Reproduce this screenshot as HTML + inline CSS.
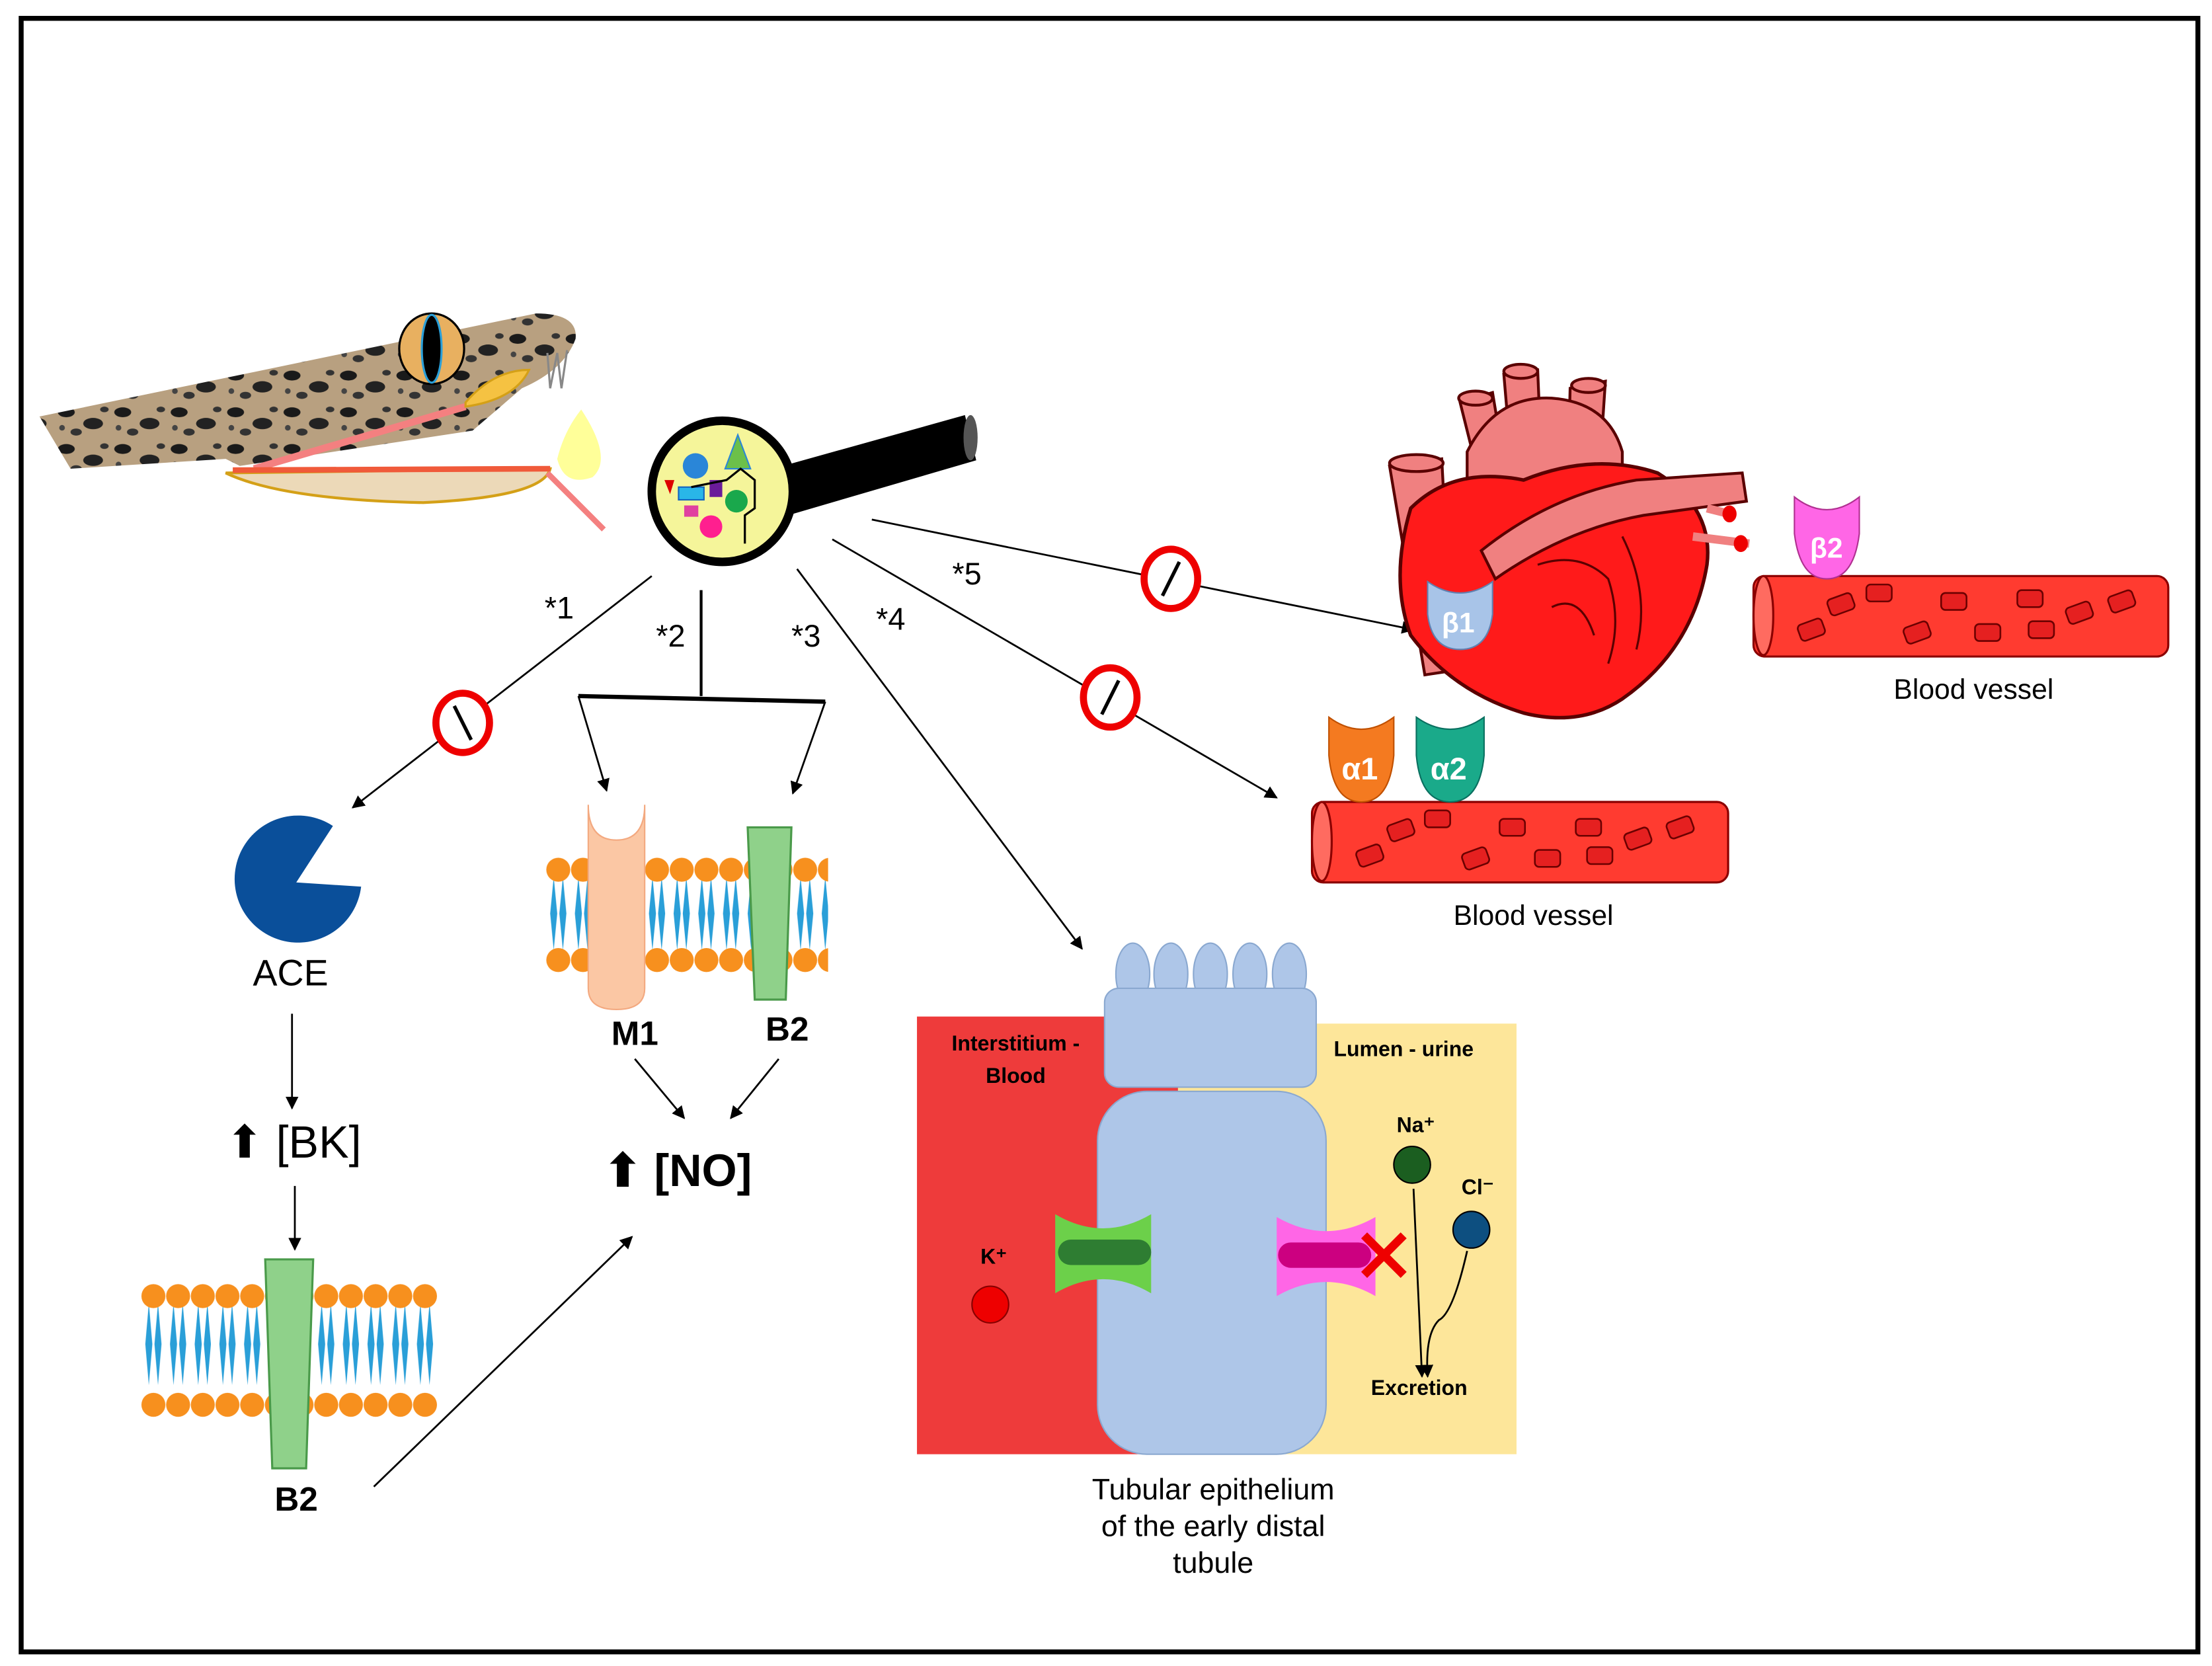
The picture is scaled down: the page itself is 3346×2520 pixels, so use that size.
<!DOCTYPE html>
<html><head><meta charset="utf-8"><style>html,body{margin:0;padding:0;background:#fff}svg{display:block}</style></head>
<body>
<svg width="3346" height="2520" viewBox="0 0 1568 1180" preserveAspectRatio="none" xmlns="http://www.w3.org/2000/svg" font-family="Liberation Sans, sans-serif">
<defs>
<marker id="ah" viewBox="0 0 10 10" refX="9" refY="5" markerWidth="7" markerHeight="7" orient="auto"><path d="M0,0 L10,5 L0,10 z" fill="#000"/></marker>
<pattern id="mem1" x="100" y="909" width="17.5" height="100" patternUnits="userSpaceOnUse">
<polygon points="5.5,14 8,43 5.5,72 3,43" fill="#2a9fd8"/>
<polygon points="12,14 14.5,43 12,72 9.5,43" fill="#2a9fd8"/>
<circle cx="8.75" cy="9" r="8.5" fill="#f7901e"/>
<circle cx="8.75" cy="86" r="8.5" fill="#f7901e"/>
</pattern>
<pattern id="mem2" x="387" y="607" width="17.5" height="100" patternUnits="userSpaceOnUse">
<polygon points="5.5,14 8,40 5.5,66 3,40" fill="#2a9fd8"/>
<polygon points="12,14 14.5,40 12,66 9.5,40" fill="#2a9fd8"/>
<circle cx="8.75" cy="9" r="8.5" fill="#f7901e"/>
<circle cx="8.75" cy="73" r="8.5" fill="#f7901e"/>
</pattern>
<pattern id="spots" width="40" height="26" patternUnits="userSpaceOnUse">
<rect width="40" height="26" fill="#b8a080"/>
<ellipse cx="7" cy="6" rx="6" ry="3.5" fill="#1a1a1a"/>
<ellipse cx="26" cy="14" rx="7" ry="4" fill="#222"/>
<ellipse cx="14" cy="20" rx="4" ry="2.5" fill="#333"/>
<ellipse cx="34" cy="4" rx="3" ry="2" fill="#333"/>
<ellipse cx="4" cy="17" rx="2" ry="2" fill="#444"/>
</pattern>
</defs>
<rect x="15" y="13" width="1543" height="1157" fill="#fff" stroke="#000" stroke-width="3.5"/>

<!-- snake -->
<path d="M28,295 L380,222 Q410,222 408,240 Q400,262 370,275 L335,305 L170,330 L160,325 L50,332 Z" fill="url(#spots)"/>
<path d="M160,335 L390,332 Q385,352 300,356 Q200,354 160,335 Z" fill="#ecd9b8" stroke="#d4a017" stroke-width="2"/>
<path d="M180,332 L330,288" stroke="#f48080" stroke-width="5"/>
<path d="M165,333 L390,332" stroke="#f05a3a" stroke-width="4"/>
<path d="M388,335 L428,375" stroke="#f48080" stroke-width="4"/>
<path d="M330,285 Q350,262 375,262 Q365,283 330,288 Z" fill="#f5c242" stroke="#d4a017" stroke-width="1.5"/>
<ellipse cx="306" cy="247" rx="23" ry="25" fill="#e8b060" stroke="#000" stroke-width="1.5"/>
<ellipse cx="306" cy="247" rx="7" ry="24" fill="#000" stroke="#2a9fd8" stroke-width="1.5"/>
<path d="M388,250 L390,275 L395,250 L398,275 L402,248" stroke="#888" fill="none" stroke-width="1.5"/>
<path d="M412,290 Q435,325 420,338 Q400,345 395,325 Q400,305 412,290 Z" fill="#ffff99"/>

<!-- magnifier -->
<path d="M555,330 L684,294 L692,326 L562,364 Z" fill="#000"/>
<ellipse cx="688" cy="310" rx="5" ry="16" fill="#555"/>
<circle cx="512" cy="348" r="50" fill="#f5f59a" stroke="#000" stroke-width="6"/>
<circle cx="493" cy="330" r="9" fill="#2a86d8"/>
<polygon points="523,308 514,332 532,332" fill="#6cc04a" stroke="#2a86d8"/>
<rect x="481" y="345" width="18" height="9" fill="#29b6e8" stroke="#1565c0"/>
<rect x="503" y="340" width="9" height="12" fill="#6a1b9a"/>
<circle cx="522" cy="355" r="8" fill="#1aa84c"/>
<rect x="485" y="358" width="10" height="8" fill="#e040a0"/>
<circle cx="504" cy="373" r="8" fill="#ff1f8f"/>
<polygon points="471,340 478,340 475,350" fill="#d00"/>
<path d="M490,345 L515,340 L525,332 L535,340 L535,360 L528,365 L528,385" stroke="#000" fill="none" stroke-width="1.5"/>

<!-- arrows from magnifier -->
<line x1="462" y1="408" x2="250" y2="572" stroke="#000" stroke-width="1.3" marker-end="url(#ah)"/>
<line x1="497" y1="418" x2="497" y2="493" stroke="#000" stroke-width="2"/>
<line x1="410" y1="493" x2="585" y2="497" stroke="#000" stroke-width="3"/>
<line x1="410" y1="493" x2="430" y2="560" stroke="#000" stroke-width="1.3" marker-end="url(#ah)"/>
<line x1="585" y1="497" x2="562" y2="562" stroke="#000" stroke-width="1.3" marker-end="url(#ah)"/>
<line x1="565" y1="403" x2="767" y2="672" stroke="#000" stroke-width="1.3" marker-end="url(#ah)"/>
<line x1="590" y1="382" x2="905" y2="565" stroke="#000" stroke-width="1.3" marker-end="url(#ah)"/>
<line x1="618" y1="368" x2="1002" y2="446" stroke="#000" stroke-width="1.3" marker-end="url(#ah)"/>
<g font-size="22">
<text x="386" y="438">*1</text><text x="465" y="458">*2</text><text x="561" y="458">*3</text><text x="621" y="446">*4</text><text x="675" y="414">*5</text>
</g>
<g fill="#fff" stroke="#e00" stroke-width="5">
<ellipse cx="328" cy="512" rx="19" ry="21"/><ellipse cx="787" cy="494" rx="19" ry="21"/><ellipse cx="830" cy="410" rx="19" ry="21"/>
</g>
<g stroke="#000" stroke-width="2.5">
<line x1="322" y1="500" x2="334" y2="524"/><line x1="793" y1="482" x2="781" y2="506"/><line x1="836" y1="398" x2="824" y2="422"/>
</g>

<!-- ACE -->
<path d="M210,625 L236,585 A45,45 0 1 0 256,628 Z" fill="#0a4f9a"/>
<text x="206" y="698" font-size="26" text-anchor="middle">ACE</text>
<line x1="207" y1="718" x2="207" y2="785" stroke="#000" stroke-width="1.3" marker-end="url(#ah)"/>
<text x="160" y="820" font-size="32">⬆ [BK]</text>
<line x1="209" y1="840" x2="209" y2="885" stroke="#000" stroke-width="1.3" marker-end="url(#ah)"/>
<rect x="100" y="909" width="210" height="95" fill="url(#mem1)"/>
<polygon points="188,892 222,892 217,1040 193,1040" fill="#8fd18a" stroke="#4a9a4a" stroke-width="1.5"/>
<text x="210" y="1070" font-size="24" font-weight="bold" text-anchor="middle">B2</text>
<line x1="265" y1="1053" x2="448" y2="876" stroke="#000" stroke-width="1.3" marker-end="url(#ah)"/>

<rect x="387" y="607" width="200" height="84" fill="url(#mem2)"/>
<path d="M417,570 L417,700 Q417,715 437,715 Q457,715 457,700 L457,570 Q457,595 437,595 Q417,595 417,570 Z" fill="#fbc7a4" stroke="#f3a980"/>
<polygon points="530,586 561,586 557,708 535,708" fill="#8fd18a" stroke="#4a9a4a" stroke-width="1.5"/>
<text x="450" y="740" font-size="24" font-weight="bold" text-anchor="middle">M1</text>
<text x="558" y="737" font-size="24" font-weight="bold" text-anchor="middle">B2</text>
<line x1="450" y1="750" x2="485" y2="792" stroke="#000" stroke-width="1.3" marker-end="url(#ah)"/>
<line x1="552" y1="750" x2="518" y2="792" stroke="#000" stroke-width="1.3" marker-end="url(#ah)"/>
<text x="428" y="840" font-size="32" font-weight="bold">⬆ [NO]</text>

<!-- tubule -->
<rect x="650" y="720" width="190" height="310" fill="#ee3b3b"/>
<rect x="835" y="725" width="240" height="305" fill="#fde69a"/>
<g fill="#aec6e8" stroke="#8aa8d0" stroke-width="1">
<ellipse cx="803" cy="690" rx="12" ry="22"/><ellipse cx="830" cy="690" rx="12" ry="22"/><ellipse cx="858" cy="690" rx="12" ry="22"/><ellipse cx="886" cy="690" rx="12" ry="22"/><ellipse cx="914" cy="690" rx="12" ry="22"/>
<rect x="783" y="700" width="150" height="70" rx="10"/>
<rect x="778" y="773" width="162" height="257" rx="35"/>
</g>
<path d="M748,860 Q782,880 816,860 L816,916 Q782,896 748,916 Z" fill="#6cd04a"/>
<rect x="750" y="878" width="66" height="18" rx="9" fill="#2e7d32"/>
<path d="M905,862 Q940,882 975,862 L975,918 Q940,898 905,918 Z" fill="#ff66e6"/>
<rect x="906" y="880" width="66" height="18" rx="9" fill="#cc0080"/>
<g stroke="#e00" stroke-width="6"><line x1="967" y1="875" x2="995" y2="903"/><line x1="995" y1="875" x2="967" y2="903"/></g>
<g font-family="Liberation Sans Narrow, Liberation Sans, sans-serif" font-weight="bold" font-size="15">
<text x="720" y="744" text-anchor="middle">Interstitium -</text>
<text x="720" y="767" text-anchor="middle">Blood</text>
<text x="995" y="748" text-anchor="middle">Lumen - urine</text>
<text x="990" y="802">Na⁺</text>
<text x="1036" y="846">Cl⁻</text>
<text x="695" y="895">K⁺</text>
<text x="1006" y="988" text-anchor="middle">Excretion</text>
</g>
<circle cx="702" cy="924" r="13" fill="#e00" stroke="#800" stroke-width="1"/>
<circle cx="1001" cy="825" r="13" fill="#1b5e20" stroke="#000" stroke-width="1"/>
<circle cx="1043" cy="871" r="13" fill="#0d4f80" stroke="#000" stroke-width="1"/>
<line x1="1002" y1="842" x2="1008" y2="975" stroke="#000" stroke-width="1.3" marker-end="url(#ah)"/>
<path d="M1040,886 Q1030,930 1020,935 Q1010,945 1012,975" stroke="#000" fill="none" stroke-width="1.3" marker-end="url(#ah)"/>
<g font-size="21" text-anchor="middle">
<text x="860" y="1062">Tubular epithelium</text><text x="860" y="1088">of the early distal</text><text x="860" y="1114">tubule</text>
</g>

<!-- blood vessel 1 -->
<rect x="930" y="568" width="295" height="57" rx="8" fill="#ff3b30" stroke="#8b0000" stroke-width="1.5"/>
<ellipse cx="937" cy="596" rx="7" ry="28" fill="#ff6b60" stroke="#8b0000" stroke-width="1.5"/>
<g fill="#e52020" stroke="#6b0000" stroke-width="1.2">
<rect x="962" y="600" width="18" height="12" rx="3" transform="rotate(-20 971 606)"/><rect x="984" y="582" width="18" height="12" rx="3" transform="rotate(-20 993 588)"/><rect x="1010" y="574" width="18" height="12" rx="3"/><rect x="1037" y="602" width="18" height="12" rx="3" transform="rotate(-20 1046 608)"/><rect x="1063" y="580" width="18" height="12" rx="3"/><rect x="1088" y="602" width="18" height="12" rx="3"/><rect x="1117" y="580" width="18" height="12" rx="3"/><rect x="1125" y="600" width="18" height="12" rx="3"/><rect x="1152" y="588" width="18" height="12" rx="3" transform="rotate(-20 1161 594)"/><rect x="1182" y="580" width="18" height="12" rx="3" transform="rotate(-20 1191 586)"/>
</g>
<path d="M942,508 Q965,525 988,508 L988,535 Q985,568 965,568 Q945,568 942,535 Z" fill="#f47a20" stroke="#c05000"/>
<path d="M1004,508 Q1028,525 1052,508 L1052,535 Q1049,568 1028,568 Q1007,568 1004,535 Z" fill="#1aaa8a" stroke="#0a7060"/>
<g font-size="22" font-weight="bold" fill="#fff"><text x="951" y="552">α1</text><text x="1014" y="552">α2</text></g>
<text x="1087" y="655" font-size="20" text-anchor="middle">Blood vessel</text>

<!-- blood vessel 2 -->
<rect x="1243" y="408" width="294" height="57" rx="8" fill="#ff3b30" stroke="#8b0000" stroke-width="1.5"/>
<ellipse cx="1250" cy="436" rx="7" ry="28" fill="#ff6b60" stroke="#8b0000" stroke-width="1.5"/>
<g fill="#e52020" stroke="#6b0000" stroke-width="1.2">
<rect x="1275" y="440" width="18" height="12" rx="3" transform="rotate(-20 1284 446)"/><rect x="1296" y="422" width="18" height="12" rx="3" transform="rotate(-20 1305 428)"/><rect x="1323" y="414" width="18" height="12" rx="3"/><rect x="1350" y="442" width="18" height="12" rx="3" transform="rotate(-20 1359 448)"/><rect x="1376" y="420" width="18" height="12" rx="3"/><rect x="1400" y="442" width="18" height="12" rx="3"/><rect x="1430" y="418" width="18" height="12" rx="3"/><rect x="1438" y="440" width="18" height="12" rx="3"/><rect x="1465" y="428" width="18" height="12" rx="3" transform="rotate(-20 1474 434)"/><rect x="1495" y="420" width="18" height="12" rx="3" transform="rotate(-20 1504 426)"/>
</g>
<path d="M1272,352 Q1295,370 1318,352 L1318,378 Q1314,410 1295,410 Q1276,410 1272,378 Z" fill="#ff66e6" stroke="#b03090"/>
<text x="1283" y="395" font-size="20" font-weight="bold" fill="#fff">β2</text>
<text x="1399" y="495" font-size="20" text-anchor="middle">Blood vessel</text>

<!-- heart -->
<g stroke="#5a0000" stroke-width="2">
<path d="M985,330 L1022,325 L1030,475 L1010,478 Z" fill="#f08080"/>
<ellipse cx="1004" cy="328" rx="19" ry="6" fill="#f08080"/>
<path d="M1035,285 L1058,278 L1065,320 L1045,325 Z" fill="#f08080"/>
<path d="M1066,265 L1090,262 L1092,310 L1070,312 Z" fill="#f08080"/>
<path d="M1113,275 L1138,270 L1135,315 L1112,315 Z" fill="#f08080"/>
<ellipse cx="1046" cy="282" rx="12" ry="5" fill="#f08080"/><ellipse cx="1078" cy="263" rx="12" ry="5" fill="#f08080"/><ellipse cx="1126" cy="273" rx="12" ry="5" fill="#f08080"/>
<path d="M1040,320 Q1060,280 1100,282 Q1140,285 1150,320 L1150,350 L1040,350 Z" fill="#f08080"/>
<path d="M1000,360 Q1030,330 1080,340 Q1130,320 1175,335 Q1215,360 1210,400 Q1200,460 1150,495 Q1120,515 1080,505 Q1030,490 1000,450 Q985,410 1000,360 Z" fill="#ff1a1a" stroke-width="2.5"/>
<path d="M1050,390 Q1100,350 1160,340 L1235,335 L1238,355 L1165,365 Q1110,375 1060,410 Z" fill="#f08080"/>
<path d="M1200,380 L1240,385 M1210,360 L1230,365" stroke="#f08080" stroke-width="6"/>
<path d="M1090,400 Q1120,390 1140,410 Q1150,440 1140,470 M1100,430 Q1120,420 1130,450 M1150,380 Q1170,420 1160,460" fill="none" stroke-width="1.5"/>
</g>
<ellipse cx="1226" cy="364" rx="5" ry="6" fill="#e00"/><ellipse cx="1234" cy="385" rx="5" ry="6" fill="#e00"/>
<path d="M1012,412 Q1035,428 1058,412 L1058,435 Q1055,460 1035,460 Q1015,460 1012,435 Z" fill="#a8c4e8" stroke="#6080b0"/>
<text x="1022" y="448" font-size="20" font-weight="bold" fill="#fff">β1</text>
</svg>
</body></html>
